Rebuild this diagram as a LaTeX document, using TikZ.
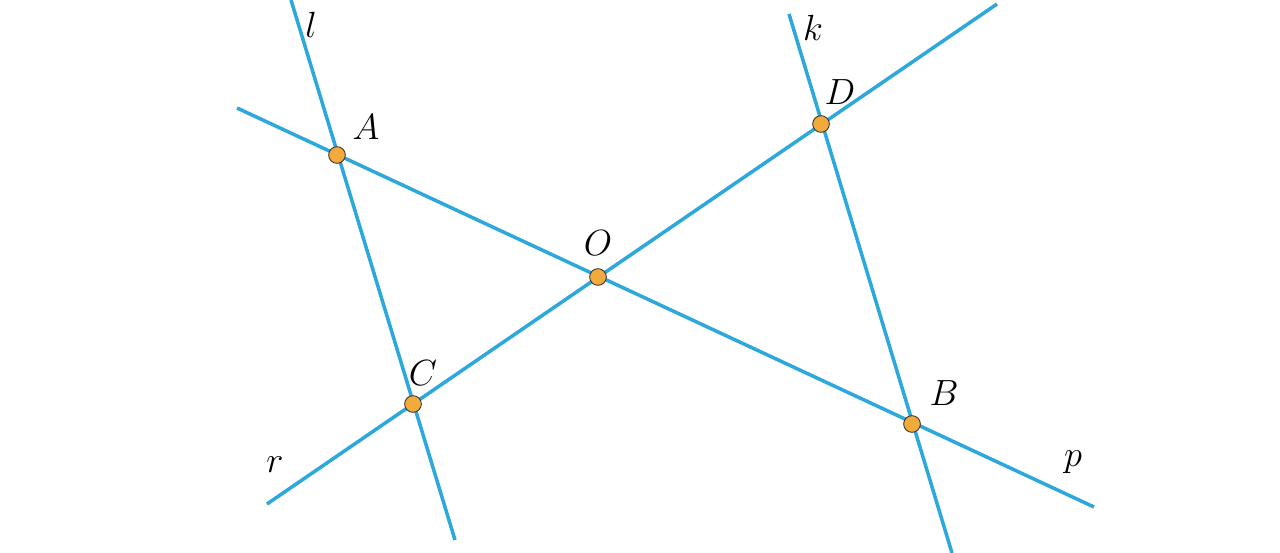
\documentclass[tikz,border=0pt]{standalone}
\begin{document}
\begin{tikzpicture}[x=0.02cm,y=-0.02cm,
  ln/.style={line width=2pt,color={rgb,255:red,45;green,168;blue,220}},
  pt/.style={circle,draw=black!80,line width=0.5pt,fill={rgb,255:red,242;green,170;blue,60},inner sep=0pt,minimum size=9.5pt},
  lb/.style={font=\fontsize{19.5}{22}\selectfont}]
\useasboundingbox (0,0) rectangle (1280,553);
\coordinate (l1) at (291,0); \coordinate (l2) at (455,540);
\coordinate (k1) at (789,14); \coordinate (k2) at (952,553);
\coordinate (p1) at (237,108); \coordinate (p2) at (1094,507);
\coordinate (r1) at (267,504); \coordinate (r2) at (997,4);
\draw[ln] (l1) -- (l2);
\draw[ln] (k1) -- (k2);
\draw[ln] (p1) -- (p2);
\draw[ln] (r1) -- (r2);
\node[pt] (A) at (337,155) {};
\node[pt] (O) at (598,277) {};
\node[pt] (C) at (413,404) {};
\node[pt] (D) at (821,124) {};
\node[pt] (B) at (912,424) {};
\node[lb] (tl) at (311,25) {$l$};
\node[lb] (tk) at (813,28) {$k$};
\node[lb] (tA) at (366,127) {$A$};
\node[lb] (tD) at (840,92) {$D$};
\node[lb] (tO) at (598,243) {$O$};
\node[lb] (tC) at (423,373) {$C$};
\node[lb] (tB) at (944,393) {$B$};
\node[lb] (tr) at (275,465) {$r$};
\node[lb] (tp) at (1073,462) {$p$};
\end{tikzpicture}
\end{document}
